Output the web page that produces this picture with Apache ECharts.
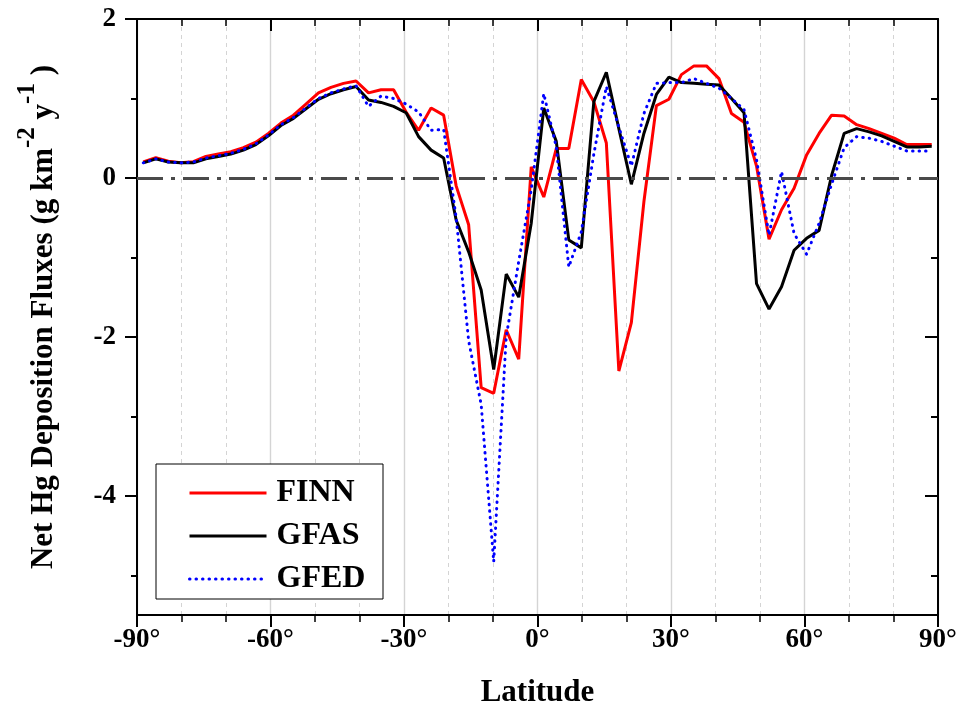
<!DOCTYPE html>
<html>
<head>
<meta charset="utf-8">
<script src="https://cdn.jsdelivr.net/npm/echarts@6/dist/echarts.min.js"></script>
<style>
  html, body { margin: 0; padding: 0; background: #fff; }
  #chart { width: 960px; height: 713px; }
</style>
</head>
<body>
<div id="chart"></div>
<script>
// latitude centres of the model grid (2.8125 deg)
const latitudes = [
  -88.59, -85.78, -82.97, -80.16, -77.34, -74.53, -71.72, -68.91, -66.09, -63.28,
  -60.47, -57.66, -54.84, -52.03, -49.22, -46.41, -43.59, -40.78, -37.97, -35.16,
  -32.34, -29.53, -26.72, -23.91, -21.09, -18.28, -15.47, -12.66, -9.84, -7.03,
  -4.22, -1.41, 1.41, 4.22, 7.03, 9.84, 12.66, 15.47, 18.28, 21.09,
  23.91, 26.72, 29.53, 32.34, 35.16, 37.97, 40.78, 43.59, 46.41, 49.22,
  52.03, 54.84, 57.66, 60.47, 63.28, 66.09, 68.91, 71.72, 74.53, 77.34,
  80.16, 82.97, 85.78, 88.59
];

const finn = [
  0.20, 0.255, 0.21, 0.19, 0.205, 0.27, 0.30, 0.33, 0.38, 0.45,
  0.56, 0.69, 0.79, 0.93, 1.07, 1.14, 1.19, 1.22, 1.07, 1.11,
  1.11, 0.83, 0.60, 0.88, 0.79, -0.10, -0.59, -2.64, -2.71, -1.91,
  -2.28, 0.14, -0.24, 0.37, 0.37, 1.24, 0.96, 0.44, -2.43, -1.82,
  -0.30, 0.91, 0.99, 1.30, 1.41, 1.41, 1.25, 0.81, 0.70, 0.15,
  -0.77, -0.40, -0.13, 0.29, 0.56, 0.79, 0.78, 0.67, 0.62, 0.56,
  0.50, 0.42, 0.42, 0.42
];

const gfas = [
  0.19, 0.24, 0.20, 0.19, 0.19, 0.24, 0.27, 0.30, 0.35, 0.42,
  0.53, 0.66, 0.75, 0.87, 0.99, 1.06, 1.11, 1.15, 0.98, 0.95,
  0.90, 0.82, 0.52, 0.35, 0.25, -0.53, -0.93, -1.41, -2.41, -1.21,
  -1.50, -0.57, 0.88, 0.46, -0.78, -0.88, 0.96, 1.33, 0.62, -0.08,
  0.56, 1.05, 1.27, 1.20, 1.19, 1.18, 1.17, 1.00, 0.82, -1.33,
  -1.65, -1.37, -0.91, -0.76, -0.66, 0.03, 0.56, 0.62, 0.58, 0.53,
  0.46, 0.39, 0.39, 0.40
];

const gfed = [
  0.19, 0.24, 0.20, 0.19, 0.20, 0.25, 0.28, 0.31, 0.36, 0.43,
  0.54, 0.67, 0.76, 0.88, 1.00, 1.07, 1.12, 1.16, 0.90, 1.03,
  1.00, 0.93, 0.83, 0.60, 0.61, -0.50, -2.05, -2.85, -4.83, -2.00,
  -1.05, -0.15, 1.06, 0.39, -1.12, -0.68, 0.30, 1.15, 0.64, 0.15,
  0.81, 1.19, 1.20, 1.20, 1.25, 1.19, 1.13, 1.00, 0.86, 0.23,
  -0.72, 0.08, -0.70, -0.96, -0.57, -0.08, 0.38, 0.52, 0.50, 0.46,
  0.40, 0.34, 0.34, 0.34
];

const yMajorTicks = [-4, -2, 0, 2];
const yMinorTicks = [-5, -3, -1, 1];

const serif = "'Liberation Serif', 'Times New Roman', serif";

const pairs = (vals) => latitudes.map((lat, i) => [lat, vals[i]]);

const chart = echarts.init(document.getElementById('chart'), null, { renderer: 'canvas' });

const xBase = {
  type: 'value',
  min: -90,
  max: 90,
  interval: 30,
  axisLine: { show: true, onZero: false, lineStyle: { color: '#000', width: 2 } },
  axisTick: { show: true, length: 12, lineStyle: { color: '#000', width: 2 } },
  minorTick: { show: true, splitNumber: 3, length: 7, lineStyle: { color: '#000', width: 1.5 } }
};

const yBase = {
  type: 'value',
  min: -5.5,
  max: 2,
  splitLine: { show: false },
  axisLabel: { show: false }
};

const option = {
  animation: false,
  grid: { left: 137, right: 22, top: 19, bottom: 97, containLabel: false },
  xAxis: [
    Object.assign({}, xBase, {
      position: 'bottom',
      axisLabel: {
        fontSize: 27, fontWeight: 'bold', fontFamily: serif, color: '#000', margin: 12,
        formatter: (v) => v + '°'
      },
      splitLine: { show: true, lineStyle: { color: '#d4d4d4', width: 1.4 } },
      minorSplitLine: { show: true, lineStyle: { color: '#d4d4d4', width: 1, type: [4, 4] } },
      name: 'Latitude',
      nameLocation: 'middle',
      nameGap: 62,
      nameTextStyle: { fontSize: 31, fontWeight: 'bold', fontFamily: serif, color: '#000' }
    }),
    Object.assign({}, xBase, {
      position: 'top',
      axisTick: { show: true, inside: true, length: 12, lineStyle: { color: '#000', width: 2 } },
      axisLabel: { show: false },
      splitLine: { show: false }
    })
  ],
  yAxis: [
    Object.assign({}, yBase, {
      position: 'left',
      axisLine: { show: true, onZero: false, lineStyle: { color: '#000', width: 2 } },
      axisTick: { show: true, customValues: yMajorTicks, length: 12, lineStyle: { color: '#000', width: 2 } },
      axisLabel: {
        show: true, customValues: yMajorTicks, margin: 21,
        fontSize: 27, fontWeight: 'bold', fontFamily: serif, color: '#000'
      },
      name: '{a|Net Hg Deposition Fluxes (g km}{b|-2}{a| y}{b|-1}{a| )}',
      nameLocation: 'middle',
      nameRotate: 90,
      nameGap: 78,
      nameTextStyle: {
        color: '#000',
        rich: {
          a: { fontSize: 31, fontWeight: 'bold', fontFamily: serif, color: '#000', lineHeight: 44, verticalAlign: 'bottom' },
          b: { fontSize: 25, fontWeight: 'bold', fontFamily: serif, color: '#000', lineHeight: 26, verticalAlign: 'top' }
        }
      }
    }),
    Object.assign({}, yBase, {
      position: 'left',
      axisLine: { show: false, onZero: false },
      axisTick: { show: true, customValues: yMinorTicks, length: 6, lineStyle: { color: '#000', width: 2 } }
    }),
    Object.assign({}, yBase, {
      position: 'right',
      axisLine: { show: true, onZero: false, lineStyle: { color: '#000', width: 2 } },
      axisTick: { show: true, inside: true, customValues: yMajorTicks, length: 13, lineStyle: { color: '#000', width: 2 } }
    }),
    Object.assign({}, yBase, {
      position: 'right',
      axisLine: { show: false, onZero: false },
      axisTick: { show: true, inside: true, customValues: yMinorTicks, length: 7, lineStyle: { color: '#000', width: 2 } }
    })
  ],
  legend: {
    orient: 'vertical',
    left: 188,
    top: 477,
    padding: 0,
    itemWidth: 77,
    itemHeight: 14,
    itemGap: 11,
    data: ['FINN', 'GFAS', 'GFED'],
    itemStyle: { opacity: 0 },
    lineStyle: { width: 3 },
    textStyle: { fontSize: 32, fontWeight: 'bold', fontFamily: serif, color: '#000', lineHeight: 32, padding: [0, 0, 0, 5] }
  },
  graphic: [{
    type: 'rect',
    z: 3,
    shape: { x: 156, y: 464, width: 227, height: 135 },
    style: { fill: '#fff', stroke: '#000', lineWidth: 1 }
  }],
  series: [
    {
      name: 'FINN',
      type: 'line',
      data: pairs(finn),
      symbol: 'none',
      lineStyle: { color: '#ff0000', width: 3 },
      itemStyle: { color: '#ff0000' },
      markLine: {
        silent: true,
        symbol: ['none', 'none'],
        label: { show: false },
        lineStyle: { color: '#4a4a4a', width: 3, type: [26, 8, 4, 8] },
        data: [{ yAxis: 0 }]
      }
    },
    {
      name: 'GFAS',
      type: 'line',
      data: pairs(gfas),
      symbol: 'none',
      lineStyle: { color: '#000000', width: 3 },
      itemStyle: { color: '#000000' }
    },
    {
      name: 'GFED',
      type: 'line',
      data: pairs(gfed),
      symbol: 'none',
      lineStyle: { color: '#0000ff', width: 3, type: [0.5, 6], cap: 'round' },
      itemStyle: { color: '#0000ff' }
    }
  ]
};

chart.setOption(option);
window.addEventListener('resize', chart.resize);
</script>
</body>
</html>
